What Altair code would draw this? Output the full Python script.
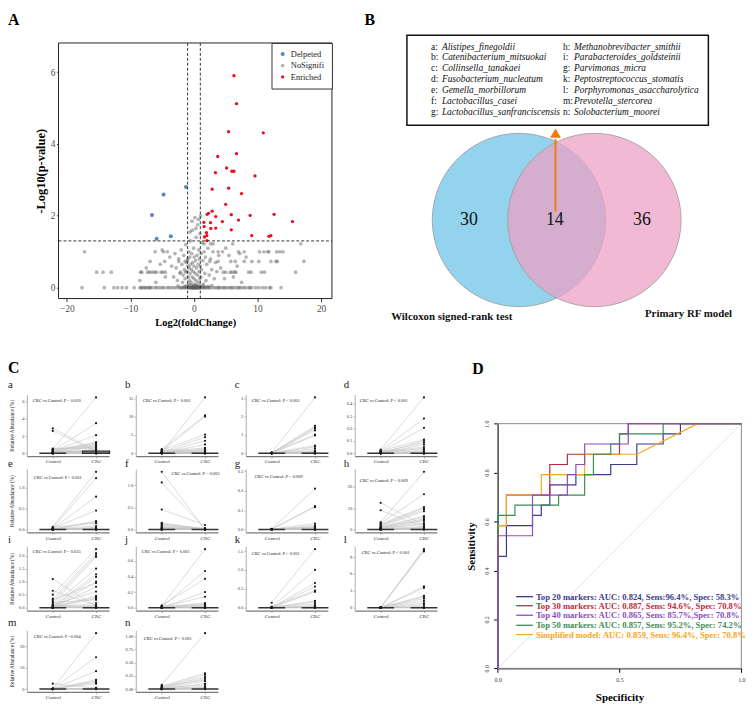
import altair as alt
import pandas as pd

W, H = 740, 692
SERIF = "Liberation Serif"


def S(domain, rng):
    return alt.Scale(domain=domain, range=rng, nice=False, zero=False)


layers = []

# =====================================================================
# Panel A : volcano plot
# =====================================================================
A_XR = [51, 327]
A_YR = [288, 30]
A_XD = [-21.3, 21.7]
A_YD = [-0.303, 6.81]
FC_CUT = [-1, 1]
P_CUT = 1.301

NS_LEVELS = [0.0, 0.43, 0.73, 1.0, 1.22]
NS_ROW0 = [-17.6, -14.1, -12.6, -12.0, -11.3, -10.6, -9.4, -8.5, -8.1, -7.8, -7.3, -7.0, -6.6,
           -6.1, -5.8, -5.4, -5.0, -4.7, -4.2, -3.9, -3.5, -3.1, -2.7, -2.3, -1.9, -1.6, -1.2,
           -0.9, -0.6, -0.3, 0.0, 0.2, 0.5, 0.8, 1.1, 1.4, 1.8, 2.1, 2.5, 2.9, 3.3, 3.6, 4.0,
           4.4, 4.9, 5.3, 5.6, 6.1, 6.5, 6.9, 7.4, 7.8, 8.1, 8.6, 9.1, 9.7, 10.2, 10.8, 11.3,
           11.9, 12.1, 13.7, -0.5, -0.1, 0.1, 0.3, 0.6, -0.8, 1.0, -1.4, 1.6, -2.0, 2.3, -6.9,
           -7.6, -8.3, 3.9, 4.7, 5.9, 7.1, 8.8, -0.2, 0.0, 0.4, -0.4, 0.7]
NS_ROW1 = [-15.3, -14.3, -13.0, -8.4, -8.2, -7.3, -7.0, -6.6, -6.2, -5.9, -5.2, -4.9, -4.5,
           -2.1, -1.3, 4.6, 5.0, 5.7, 6.0, 6.4, 6.6, 8.6, 9.0, 10.6, 11.1, 16.0]
NS_ROW2 = [-6.9, -4.6, -2.4, -1.4, 2.5, 3.8, 5.8, 6.5, 7.9, 9.1, 10.2, 12.1, 12.9, 13.1, 17.3]
NS_ROW3 = [-17.2, -6.1, -4.8, -4.2, 3.8, 4.5, 7.0, 7.9, 10.3, 11.0, 11.6, 11.8, 13.0, 13.5, 14.0]
NS_ROW4 = [1.6, 2.6, 3.0, 6.1, 16.8]
NS_CLOUD_X = [-3.8, -3.5, -3.2, -3.0, -2.8, -2.6, -2.4, -2.2, -2.0, -1.9, -1.8, -1.7, -1.6, -1.5,
              -1.4, -1.3, -1.2, -1.1, -1.0, -1.0, -0.95, -0.9, -0.85, -0.8, -0.75, -0.7, -0.65,
              -0.6, -0.55, -0.5, -0.45, -0.4, -0.35, -0.3, -0.25, -0.2, -0.15, -0.1, -0.05, 0.0,
              0.0, 0.05, 0.1, 0.15, 0.2, 0.25, 0.3, 0.35, 0.4, 0.45, 0.5, 0.55, 0.6, 0.65, 0.7,
              0.75, 0.8, 0.85, 0.9, 0.95, 1.0, 1.05, 1.1, 1.15, 1.2, 1.3, 1.4, 1.5, 1.6, 1.7, 1.8,
              1.9, 2.0, 2.2, 2.4, 2.6, 2.8, 3.0, 3.2, 3.4, 3.6, 3.9, -0.3, 0.7, -0.6, 0.3,
              -1.5, -1.2, -0.9, -0.7, -0.4, -0.2, 0.1, 0.3, 0.5, 0.8, 1.0, 1.3, 1.7, 2.2, -2.5, 2.8,
              4.2, 4.8, 5.5, 6.2, 6.8, 7.5, 8.2, -4.5, -5.3, -6.0, -7.5, -8.5, 5.0, 7.2, -5.0]
NS_CLOUD_Y = [0.85, 0.6, 0.3, 0.95, 0.55, 0.2, 0.8, 0.4, 1.05, 0.65, 0.15, 0.35, 0.9, 0.5,
              0.25, 1.2, 0.7, 0.45, 0.8, 0.75, 0.6, 0.3, 0.1, 1.0, 0.55, 0.2, 0.85,
              0.4, 1.3, 0.65, 0.15, 0.5, 0.95, 0.3, 1.6, 0.7, 0.05, 0.45, 1.1, 0.25,
              0.6, 0.85, 0.1, 1.95, 0.4, 0.75, 0.2, 1.4, 0.55, 0.05, 0.9, 0.35, 1.75, 0.65, 0.15,
              1.05, 0.45, 0.8, 0.25, 1.5, 0.6, 2.0, 0.3, 0.95, 0.5, 1.25, 0.75, 0.1, 1.0, 0.4, 0.85,
              0.2, 0.65, 1.1, 0.35, 0.8, 0.5, 1.0, 0.25, 0.7, 0.45, 0.9, 1.85, 1.9, 1.55, 1.65,
              0.03, 0.06, 0.02, 0.05, 0.08, 0.02, 0.04, 0.07, 0.02, 0.06, 0.03, 0.05, 0.02, 0.04, 0.05, 0.06,
              0.55, 0.25, 0.9, 0.3, 0.6, 0.15, 0.85, 0.3, 0.65, 0.15, 0.55, 0.2, 1.1, 0.95, 1.05]
ENR_X = [6.29, 6.7, 5.45, 10.9, 3.74, 6.7, 5.14, 5.97, 6.29, 3.38, 9.6, 2.86, 5.45, 7.48, 4.99,
         2.86, 2.08, 2.29, 5.87, 8.83, 12.6, 3.43, 1.56, 2.6, 4.47, 7.01, 15.5, 1.61, 2.65, 3.43,
         5.87, 1.97, 2.03, 1.66, 9.09, 11.8, 12.1, 2.03]
ENR_Y = [5.90, 5.12, 4.34, 4.31, 3.65, 3.73, 3.33, 3.24, 3.24, 3.20, 3.11, 2.74, 2.77, 2.62, 2.32,
         2.13, 2.04, 2.07, 2.03, 2.01, 2.04, 1.98, 1.82, 1.81, 1.84, 1.88, 1.84, 1.70, 1.65, 1.66,
         1.61, 1.53, 1.45, 1.41, 1.45, 1.43, 1.45, 1.31]
DEP_X = [-1.25, -4.78, -6.6, -3.64, -5.87]
DEP_Y = [2.80, 2.59, 2.02, 1.43, 1.36]
A_GROUPS = ["Delpeted", "NoSignifi", "Enriched"]
A_COLORS = ["#5b86cc", "rgba(90,90,90,0.45)", "#e8101a"]

ns_x, ns_y = [], []
for lvl, row in zip(NS_LEVELS, [NS_ROW0, NS_ROW1, NS_ROW2, NS_ROW3, NS_ROW4]):
    ns_x += row
    ns_y += [lvl] * len(row)
ns_x += NS_CLOUD_X
ns_y += NS_CLOUD_Y
dfA = pd.DataFrame({
    "fc": ns_x + DEP_X + ENR_X,
    "p": ns_y + DEP_Y + ENR_Y,
    "grp": ["NoSignifi"] * len(ns_x) + ["Delpeted"] * len(DEP_X) + ["Enriched"] * len(ENR_X),
})

ax_A_x = alt.Axis(values=[-20, -10, 0, 10, 20], title="Log2(foldChange)", orient="bottom",
                  offset=A_YR[0] - H, domain=False, tickSize=3, tickColor="#333", labelPadding=2,
                  labelFont=SERIF, labelFontSize=9.5, labelColor="#4d4d4d", titleFont=SERIF,
                  titleFontSize=10.5, titleFontWeight="bold", titlePadding=5, titleColor="black",
                  labelFlush=False)
ax_A_y = alt.Axis(values=[0, 2, 4, 6], title="-Log10(p-value)", orient="left", offset=-A_XR[0],
                  domain=False, tickSize=2, tickColor="#333", labelPadding=1.5, labelFont=SERIF,
                  labelFontSize=9.5, labelColor="#4d4d4d", titleFont=SERIF, titleFontSize=12.5,
                  titleFontWeight="bold", titlePadding=3, titleColor="black")

layers.append(alt.Chart(dfA).mark_circle(opacity=1).encode(
    x=alt.X("fc:Q", scale=S(A_XD, A_XR), axis=ax_A_x),
    y=alt.Y("p:Q", scale=S(A_YD, A_YR), axis=ax_A_y),
    color=alt.Color("grp:N", scale=alt.Scale(domain=A_GROUPS, range=A_COLORS),
                    legend=alt.Legend(title=None, orient="none", legendX=266, legendY=30,
                                      fillColor="white", strokeColor="#333", padding=7,
                                      labelFont=SERIF, labelFontSize=8.5, labelColor="#222",
                                      symbolType="circle", symbolSize=42, rowPadding=2.5)),
    size=alt.Size("grp:N", scale=alt.Scale(domain=A_GROUPS, range=[17, 11, 17]), legend=None),
))

dfAv = pd.DataFrame({"x": FC_CUT, "y": [A_YD[0]] * 2, "y2": [A_YD[1]] * 2})
layers.append(alt.Chart(dfAv).mark_rule(strokeDash=[3, 2], color="#222", strokeWidth=0.9).encode(
    x=alt.X("x:Q", scale=S(A_XD, A_XR), axis=None),
    y=alt.Y("y:Q", scale=S(A_YD, A_YR), axis=None), y2="y2:Q"))
dfAh = pd.DataFrame({"y": [P_CUT], "x": [A_XD[0]], "x2": [A_XD[1]]})
layers.append(alt.Chart(dfAh).mark_rule(strokeDash=[3, 2], color="#222", strokeWidth=0.9).encode(
    x=alt.X("x:Q", scale=S(A_XD, A_XR), axis=None), x2="x2:Q",
    y=alt.Y("y:Q", scale=S(A_YD, A_YR), axis=None)))
dfAbox = pd.DataFrame({"x": [A_XD[0]], "x2": [A_XD[1]], "y": [A_YD[0]], "y2": [A_YD[1]]})
layers.append(alt.Chart(dfAbox).mark_rect(fillOpacity=0, stroke="#222", strokeWidth=1).encode(
    x=alt.X("x:Q", scale=S(A_XD, A_XR), axis=None), x2="x2:Q",
    y=alt.Y("y:Q", scale=S(A_YD, A_YR), axis=None), y2="y2:Q"))

# =====================================================================
# Panel B : Venn diagram
# =====================================================================
B_XR = [387, 737]
B_YR = [20, 312]
B_XD = [0, 350]
B_YD = [0, 292]
VENN_CX = [128.8, 205.0]
VENN_CY = [188.7, 188.7]
VENN_DIAM = 175
VENN_COLORS = ["#93d3ee", "#eca0c4"]
VENN_OPAC = [1.0, 0.74]
VENN_COUNTS = ["30", "14", "36"]
VENN_COUNT_X = [78.3, 165.0, 253.0]
VENN_COUNT_Y = [189.0, 189.0, 189.0]
VENN_SETS = ["Wilcoxon signed-rank test", "Primary RF model"]
VENN_SET_X = [61, 300]
VENN_SET_Y = [287, 284]
BOX_X = [15.7, 320.0]
BOX_Y = [2.3, 93.0]
KEYS_1 = ["a:", "b:", "c:", "d:", "e:", "f:", "g:"]
NAMES_1 = ["Alistipes_finegoldii", "Catenibacterium_mitsuokai", "Collinsella_tanakaei",
           "Fusobacterium_nucleatum", "Gemella_morbillorum", "Lactobacillus_casei",
           "Lactobacillus_sanfranciscensis"]
KEYS_2 = ["h:", "i:", "g:", "k:", "l:", "m:", "n:"]
NAMES_2 = ["Methanobrevibacter_smithii", "Parabacteroides_goldsteinii", "Parvimonas_micra",
           "Peptostreptococcus_stomatis", "Porphyromonas_asaccharolytica", "Prevotella_stercorea",
           "Solobacterium_moorei"]
LINE_Y = [13.7, 24.3, 35.3, 46.0, 57.7, 68.7, 79.3]
COL_X = [40.0, 173.3]
NAME_GAP = 11.0
ARROW_X = 165.7
ARROW_Y = [180.0, 107.0]
ARROW_HEAD_Y = 101.0
ARROW_COLOR = "#f07a12"

bx = lambda f: alt.X(f, scale=S(B_XD, B_XR), axis=None)
by = lambda f: alt.Y(f, scale=S(B_YD, B_YR), axis=None)

for i in range(2):
    dfc = pd.DataFrame({"x": [VENN_CX[i]], "y": [VENN_CY[i]]})
    layers.append(alt.Chart(dfc).mark_point(
        filled=True, shape="circle", size=VENN_DIAM ** 2, fill=VENN_COLORS[i],
        fillOpacity=VENN_OPAC[i], opacity=1, stroke="#9a9a9a", strokeWidth=0.8, strokeOpacity=1
    ).encode(x=bx("x:Q"), y=by("y:Q")))

dfArrow = pd.DataFrame({"x": [ARROW_X], "y": [ARROW_Y[0]], "y2": [ARROW_Y[1]]})
layers.append(alt.Chart(dfArrow).mark_rule(color=ARROW_COLOR, strokeWidth=2).encode(
    x=bx("x:Q"), y=by("y:Q"), y2="y2:Q"))
dfHead = pd.DataFrame({"x": [ARROW_X], "y": [ARROW_HEAD_Y]})
layers.append(alt.Chart(dfHead).mark_point(filled=True, shape="triangle-up", size=120,
                                           color=ARROW_COLOR, opacity=1).encode(
    x=bx("x:Q"), y=by("y:Q")))

dfCounts = pd.DataFrame({"x": VENN_COUNT_X, "y": VENN_COUNT_Y, "t": VENN_COUNTS})
layers.append(alt.Chart(dfCounts).mark_text(font=SERIF, fontSize=18, color="#111",
                                            baseline="middle").encode(
    x=bx("x:Q"), y=by("y:Q"), text="t:N"))
dfSets = pd.DataFrame({"x": VENN_SET_X, "y": VENN_SET_Y, "t": VENN_SETS})
layers.append(alt.Chart(dfSets).mark_text(font=SERIF, fontSize=11, fontWeight="bold",
                                          color="#111", baseline="middle").encode(
    x=bx("x:Q"), y=by("y:Q"), text="t:N"))

dfBox = pd.DataFrame({"x": [BOX_X[0]], "x2": [BOX_X[1]], "y": [BOX_Y[0]], "y2": [BOX_Y[1]]})
layers.append(alt.Chart(dfBox).mark_rect(fill="white", stroke="#111", strokeWidth=1.5).encode(
    x=bx("x:Q"), x2="x2:Q", y=by("y:Q"), y2="y2:Q"))

keys_df = pd.DataFrame({
    "x": [COL_X[0]] * 7 + [COL_X[1]] * 7,
    "y": LINE_Y + LINE_Y,
    "k": KEYS_1 + KEYS_2,
    "n": NAMES_1 + NAMES_2,
})
keys_df["xn"] = keys_df["x"] + NAME_GAP
layers.append(alt.Chart(keys_df).mark_text(font=SERIF, fontSize=9.5, align="left",
                                           baseline="middle", color="#111").encode(
    x=bx("x:Q"), y=by("y:Q"), text="k:N"))
layers.append(alt.Chart(keys_df).mark_text(font=SERIF, fontSize=9.5, align="left",
                                           baseline="middle", fontStyle="italic",
                                           color="#111").encode(
    x=bx("xn:Q"), y=by("y:Q"), text="n:N"))

# =====================================================================
# Panel C : paired abundance plots
# =====================================================================
C_COL_L = [19, 129, 240, 350]
C_W = 83
C_ROW_T = [385, 460, 538, 623]
C_ROW_H = [62, 64, 65, 62]
C_XD = [-0.6, 1.3]
C_LET = ["a", "b", "c", "d", "e", "f", "g", "h", "i", "j", "k", "l", "m", "n"]

C_CTRL = [
    [0.45, 0.30, 0.25, 0.20, 2.90, 2.60, 0.40, 0.15, 0.35, 0.05, 0.00, 0.55, 0.50, 0.00, 0.10, 0.00, 0.20, 0.00, 0.30, 0.00, 0.10, 0.00, 0.05, 0.00],
    [0.2, 1.1, 0.5, 0.8, 0.3, 0.1, 0.0, 0.4, 0.0, 0.2, 0.9, 0.0, 0.1, 0.0, 0.6, 0.0, 0.3, 0.0, 0.0, 0.1, 0.0, 0.0],
    [0.03, 0.02, 0.01, 0.02, 0.00, 0.01, 0.00, 0.03, 0.00, 0.01, 0.00, 0.02, 0.00, 0.00, 0.01, 0.00, 0.00, 0.00, 0.00, 0.00],
    [0.03, 0.02, 0.01, 0.02, 0.00, 0.01, 0.00, 0.01, 0.00, 0.02, 0.00, 0.00, 0.01, 0.00, 0.00, 0.00, 0.00, 0.00],
    [0.06, 0.04, 0.02, 0.03, 0.01, 0.00, 0.05, 0.02, 0.00, 0.01, 0.00, 0.00, 0.02, 0.00, 0.00, 0.00, 0.00],
    [1.30, 1.06, 0.45, 0.15, 0.13, 0.11, 0.09, 0.07, 0.05, 0.04, 0.03, 0.02, 0.01, 0.00, 0.00, 0.00, 0.00, 0.00],
    [0.003, 0.002, 0.001, 0.002, 0.000, 0.001, 0.000, 0.002, 0.000, 0.001, 0.000, 0.000, 0.000, 0.000],
    [12.5, 9.0, 3.5, 3.0, 2.6, 2.2, 1.8, 1.5, 1.2, 1.0, 0.8, 0.6, 0.5, 0.4, 0.3, 0.2, 0.1, 0.0, 0.0, 0.0, 0.1, 0.0, 0.0, 0.0],
    [1.10, 0.65, 0.50, 0.35, 0.25, 0.15, 0.10, 0.05, 0.02, 0.00, 0.30, 0.00, 0.10, 0.00, 0.05, 0.00, 0.20, 0.00, 0.00, 0.00, 0.10, 0.00, 0.00, 0.05],
    [0.02, 0.01, 0.03, 0.00, 0.01, 0.00, 0.02, 0.00, 0.01, 0.00, 0.00, 0.00, 0.00, 0.00, 0.00, 0.00],
    [0.13, 0.02, 0.01, 0.00, 0.02, 0.00, 0.01, 0.00, 0.00, 0.00, 0.00, 0.00, 0.00, 0.00, 0.00, 0.00],
    [0.05, 0.03, 0.02, 0.01, 0.00, 0.02, 0.00, 0.01, 0.00, 0.00, 0.00, 0.00, 0.00, 0.00, 0.00, 0.00],
    [2.5, 0.3, 0.2, 0.1, 0.0, 0.2, 0.0, 0.1, 0.0, 0.0, 0.0, 0.0, 0.0, 0.0],
    [0.08, 0.06, 0.04, 0.03, 0.02, 0.05, 0.01, 0.00, 0.02, 0.00, 0.01, 0.00, 0.00, 0.00, 0.00, 0.00],
]
C_CRC = [
    [6.50, 3.50, 2.10, 1.30, 0.30, 0.20, 1.20, 1.10, 1.00, 0.90, 0.80, 0.70, 0.60, 0.50, 0.40, 0.30, 0.20, 0.10, 0.05, 0.00, 0.00, 0.15, 0.00, 0.00],
    [15.2, 10.3, 10.0, 5.1, 4.4, 3.4, 2.4, 1.5, 1.2, 1.0, 0.8, 0.6, 0.4, 0.3, 0.2, 0.1, 0.05, 0.0, 0.0, 0.1, 0.0, 0.0],
    [3.05, 1.50, 1.42, 1.35, 1.25, 1.02, 0.97, 0.42, 0.35, 0.25, 0.15, 0.10, 0.05, 0.03, 0.02, 0.01, 0.00, 0.00, 0.00, 0.00],
    [0.45, 0.28, 0.205, 0.11, 0.10, 0.085, 0.07, 0.05, 0.04, 0.03, 0.02, 0.01, 0.01, 0.00, 0.00, 0.00, 0.00, 0.00],
    [1.37, 1.22, 0.78, 0.45, 0.20, 0.18, 0.15, 0.08, 0.05, 0.03, 0.02, 0.01, 0.00, 0.00, 0.00, 0.00, 0.00],
    [0.00, 0.02, 0.10, 0.01, 0.00, 0.03, 0.00, 0.01, 0.02, 0.00, 0.00, 0.01, 0.00, 0.00, 0.00, 0.00, 0.00, 0.00],
    [0.21, 0.12, 0.115, 0.03, 0.02, 0.015, 0.01, 0.01, 0.005, 0.00, 0.00, 0.00, 0.00, 0.00],
    [2.0, 1.0, 27.0, 16.5, 10.5, 10.0, 9.3, 8.5, 6.2, 5.8, 5.0, 4.5, 4.0, 3.0, 2.5, 1.5, 1.0, 0.5, 0.3, 0.2, 0.0, 0.0, 0.6, 0.0],
    [0.05, 0.10, 2.25, 2.10, 2.02, 1.95, 1.50, 1.28, 1.18, 1.00, 0.95, 0.80, 0.62, 0.45, 0.40, 0.35, 0.30, 0.18, 0.10, 0.05, 0.03, 0.00, 0.00, 0.00],
    [0.75, 0.47, 0.37, 0.20, 0.14, 0.06, 0.05, 0.04, 0.03, 0.02, 0.01, 0.01, 0.00, 0.00, 0.00, 0.00],
    [1.55, 1.00, 0.65, 0.56, 0.45, 0.42, 0.18, 0.15, 0.10, 0.05, 0.03, 0.02, 0.01, 0.00, 0.00, 0.00],
    [10.4, 10.2, 10.0, 3.8, 3.5, 2.1, 1.9, 1.6, 1.2, 0.8, 0.5, 0.2, 0.1, 0.0, 0.0, 0.0],
    [0.5, 26.0, 14.8, 8.3, 4.3, 3.8, 3.2, 2.5, 0.5, 0.3, 0.1, 0.0, 0.0, 0.0],
    [1.06, 0.30, 0.27, 0.23, 0.20, 0.17, 0.15, 0.10, 0.08, 0.05, 0.03, 0.02, 0.01, 0.00, 0.00, 0.00],
]
C_YTOP = [6.5, 15.2, 3.05, 0.45, 1.37, 1.3, 0.297, 27.0, 2.25, 0.75, 1.55, 10.4, 26.0, 1.06]
C_TICKS = [[0, 2, 4, 6], [0, 5, 10, 15], [0, 1, 2, 3], [0, 0.1, 0.2, 0.3, 0.4], [0, 0.5, 1.0],
           [0, 0.5, 1.0], [0, 0.1, 0.2, 0.3], [0, 10, 20], [0, 0.5, 1.0, 1.5, 2.0],
           [0, 0.2, 0.4, 0.6], [0, 0.5, 1.0, 1.5], [0, 3, 6, 9], [0, 10, 20],
           [0, 0.25, 0.5, 0.75, 1.0]]
C_FMT = ["d", "d", "d", ".1f", ".1f", ".1f", ".1f", "d", ".1f", ".1f", ".1f", "d", "d", ".2f"]
C_BOX_HI = [[0.0, 0.25]] + [[0.0, 0.0]] * 13
C_PTEXT = ["CRC vs Control:  P = 0.020", "CRC vs Control:  P < 0.001", "CRC vs Control:  P < 0.001",
           "CRC vs Control:  P < 0.001", "CRC vs Control:  P < 0.001", "CRC vs Control:  P = 0.003",
           "CRC vs Control:  P = 0.009", "CRC vs Control:  P = 0.009", "CRC vs Control:  P = 0.035",
           "CRC vs Control:  P < 0.001", "CRC vs Control:  P < 0.001", "CRC vs Control:  P < 0.001",
           "CRC vs Control:  P =0.004", "CRC vs Control:  P < 0.001"]
C_PT_DX = [6, 7, 6, 5, 7, 36, 9, 5, 6, 6, 6, 7, 7, 8]
C_PT_DY = [6, 6, 6, 6, 9, 5, 8, 12, 6, 6, 8, 7, 7, 9]
C_LET_X = [0, 118, 229, 339]
C_LET_Y = [375.5, 455, 532, 616]

pt_rows = []
let_rows = []
for i in range(14):
    r, c = divmod(i, 4)
    L = C_COL_L[c]
    T = C_ROW_T[r]
    Bt = T + C_ROW_H[r]
    M = C_YTOP[i]
    xs = S(C_XD, [L, L + C_W])
    ys = S([-0.05 * M, 1.05 * M], [Bt, T])
    rows = []
    for k, (a, b) in enumerate(zip(C_CTRL[i], C_CRC[i])):
        rows.append({"pair": k, "g": 0, "v": a})
        rows.append({"pair": k, "g": 1, "v": b})
    df = pd.DataFrame(rows)
    layers.append(alt.Chart(df).mark_line(color="#c4c4c4", strokeWidth=0.6).encode(
        x=alt.X("g:Q", scale=xs, axis=None), y=alt.Y("v:Q", scale=ys, axis=None),
        detail="pair:N"))
    dfb = pd.DataFrame({"g0": [-0.31, 0.69], "g1": [0.31, 1.31], "lo": [0.0, 0.0],
                        "hi": C_BOX_HI[i]})
    layers.append(alt.Chart(dfb).mark_rect(fill="#a898a8", stroke="#333", strokeWidth=1.5).encode(
        x=alt.X("g0:Q", scale=xs, axis=None), x2="g1:Q",
        y=alt.Y("lo:Q", scale=ys, axis=None), y2="hi:Q"))
    yax = dict(values=C_TICKS[i], format=C_FMT[i], orient="left", offset=-L,
               title="Relative Abundance (%)" if c == 0 else "", tickSize=2, labelPadding=1,
               labelFont=SERIF, labelFontSize=4.5, labelColor="#333", domainColor="#9a9a9a",
               domainWidth=0.8, tickColor="#9a9a9a", tickWidth=0.6, titleFont=SERIF,
               titleFontSize=5.3, titleFontWeight="normal", titleColor="#222")
    if c == 0:
        yax["titleX"] = -12.7
    layers.append(alt.Chart(df).mark_circle(color="#1a1a1a", size=5, opacity=1).encode(
        x=alt.X("g:Q", scale=xs, axis=alt.Axis(
            values=[0, 1], labelExpr="datum.value == 0 ? 'Control' : 'CRC'", orient="bottom",
            offset=Bt - H, title="", tickSize=2, labelPadding=1, labelFont=SERIF,
            labelFontSize=5, labelColor="#333", domainColor="#7a7a7a", domainWidth=1.3,
            tickColor="#7a7a7a", tickWidth=0.6, labelFlush=False)),
        y=alt.Y("v:Q", scale=ys, axis=alt.Axis(**yax))))
    pt_rows.append({"x": L + C_PT_DX[i], "y": T + C_PT_DY[i], "t": C_PTEXT[i]})
    let_rows.append({"x": C_LET_X[c], "y": C_LET_Y[r], "t": C_LET[i]})

PXS = S([0, W], [0, W])
PYS = S([0, H], [0, H])
layers.append(alt.Chart(pd.DataFrame(pt_rows)).mark_text(
    font=SERIF, fontSize=4.5, align="left", baseline="middle", color="#222").encode(
    x=alt.X("x:Q", scale=PXS, axis=None), y=alt.Y("y:Q", scale=PYS, axis=None), text="t:N"))
layers.append(alt.Chart(pd.DataFrame(let_rows)).mark_text(
    font=SERIF, fontSize=11, align="left", baseline="middle", color="#222").encode(
    x=alt.X("x:Q", scale=PXS, axis=None), y=alt.Y("y:Q", scale=PYS, axis=None), text="t:N"))

# =====================================================================
# Panel D : ROC curves
# =====================================================================
D_XR = [494.3, 740.3]
D_YR = [661.3, 414.3]
D_XD = [0, 1]
D_YD = [0, 1]

ROC_NAMES = ["Top 20 markers", "Top 30 markers", "Simplified model", "Top 50 markers", "Top 40 markers"]
ROC_COLORS = ["#3b3b8f", "#c0283a", "#f5a623", "#3d8c55", "#8a4cc0"]
ROC_X = [
    [0, 0, 0.036, 0.036, 0.143, 0.143, 0.179, 0.179, 0.214, 0.214, 0.321, 0.321, 0.464, 0.464, 0.571, 0.571, 0.679, 0.679, 0.750, 0.750, 1.0],
    [0, 0, 0.036, 0.036, 0.214, 0.214, 0.286, 0.286, 0.500, 0.500, 0.536, 0.536, 1.0],
    [0, 0, 0.036, 0.036, 0.179, 0.179, 0.357, 0.357, 0.571, 0.821, 1.0],
    [0, 0, 0.071, 0.071, 0.250, 0.250, 0.357, 0.357, 0.393, 0.393, 0.464, 0.464, 0.500, 0.500, 0.679, 0.679, 1.0],
    [0, 0, 0.143, 0.143, 0.286, 0.286, 0.321, 0.321, 0.357, 0.357, 0.536, 0.536, 1.0],
]
ROC_Y = [
    [0, 0.458, 0.458, 0.583, 0.583, 0.625, 0.625, 0.667, 0.667, 0.750, 0.750, 0.792, 0.792, 0.833, 0.833, 0.917, 0.917, 0.958, 0.958, 1.0, 1.0],
    [0, 0.583, 0.583, 0.708, 0.708, 0.833, 0.833, 0.875, 0.875, 0.958, 0.958, 1.0, 1.0],
    [0, 0.583, 0.583, 0.708, 0.708, 0.792, 0.792, 0.875, 0.875, 1.0, 1.0],
    [0, 0.625, 0.625, 0.667, 0.667, 0.708, 0.708, 0.792, 0.792, 0.875, 0.875, 0.917, 0.917, 0.958, 0.958, 1.0, 1.0],
    [0, 0.542, 0.542, 0.708, 0.708, 0.792, 0.792, 0.833, 0.833, 0.917, 0.917, 1.0, 1.0],
]
LEG_TEXT = ["Top 20 markers:  AUC: 0.824, Sens:96.4%, Spec: 58.3%",
            "Top 30 markers:  AUC: 0.887, Sens: 94.6%, Spec: 70.8%",
            "Top 40 markers:  AUC: 0.865, Sens: 85.7%,Spec: 70.8%",
            "Top 50 markers:  AUC: 0.857, Sens: 95.2%, Spec: 74.2%",
            "Simplified model: AUC: 0.859, Sens: 96.4%, Spec: 70.8%"]
LEG_COLORS = ["#3b3b8f", "#c0283a", "#8a4cc0", "#3d8c55", "#f5a623"]
LEG_Y = [0.293, 0.256, 0.217, 0.176, 0.138]
LEG_X0, LEG_X1, LEG_TX = 0.076, 0.145, 0.157

dx_ = lambda f, axis=None: alt.X(f, scale=S(D_XD, D_XR), axis=axis)
dy_ = lambda f, axis=None: alt.Y(f, scale=S(D_YD, D_YR), axis=axis)

dfDiag = pd.DataFrame({"x": [0, 1], "y": [0, 1]})
layers.append(alt.Chart(dfDiag).mark_line(color="#dcdcdc", strokeWidth=0.8).encode(
    x=dx_("x:Q", alt.Axis(values=[0, 0.5, 1.0], format=".1f", orient="bottom",
                          offset=D_YR[0] - H, title="Specificity", titleFont=SERIF,
                          titleFontSize=11, titleFontWeight="bold", titlePadding=9,
                          titleColor="black", labelFont=SERIF, labelFontSize=6,
                          labelColor="#444", tickSize=4, labelPadding=4,
                          domainColor="black", tickColor="black", labelFlush=False)),
    y=dy_("y:Q", alt.Axis(values=[0, 0.2, 0.4, 0.6, 0.8, 1.0], format=".1f", orient="left",
                          offset=-D_XR[0], title="Sensitivity", titleFont=SERIF,
                          titleFontSize=11, titleFontWeight="bold", titlePadding=7,
                          titleColor="black", labelFont=SERIF, labelFontSize=6,
                          labelColor="#444", tickSize=4, labelPadding=4, labelAngle=-90,
                          domainColor="black", tickColor="black", labelFlush=False))))
dfDbox = pd.DataFrame({"x": [0], "x2": [1], "y": [0], "y2": [1]})
layers.append(alt.Chart(dfDbox).mark_rect(fillOpacity=0, stroke="#8a8a8a", strokeWidth=1).encode(
    x=dx_("x:Q"), x2="x2:Q", y=dy_("y:Q"), y2="y2:Q"))
for name, col, xs_, ys_ in zip(ROC_NAMES, ROC_COLORS, ROC_X, ROC_Y):
    dfr = pd.DataFrame({"x": xs_, "y": ys_, "i": list(range(len(xs_)))})
    layers.append(alt.Chart(dfr).mark_line(color=col, strokeWidth=1.2).encode(
        x=dx_("x:Q"), y=dy_("y:Q"), order="i:Q"))
dfLeg = pd.DataFrame({"x0": [LEG_X0] * 5, "x1": [LEG_X1] * 5, "tx": [LEG_TX] * 5, "y": LEG_Y,
                      "t": LEG_TEXT, "c": LEG_COLORS})
layers.append(alt.Chart(dfLeg).mark_rule(strokeWidth=1.3).encode(
    x=dx_("x0:Q"), x2="x1:Q", y=dy_("y:Q"), color=alt.Color("c:N", scale=None)))
layers.append(alt.Chart(dfLeg).mark_text(font=SERIF, fontSize=8.7, fontWeight="bold",
                                         align="left", baseline="middle").encode(
    x=dx_("tx:Q"), y=dy_("y:Q"), text="t:N", color=alt.Color("c:N", scale=None)))

# =====================================================================
# Panel letters
# =====================================================================
PANEL_LET = ["A", "B", "C", "D"]
PANEL_LET_X = [0, 360, 0, 468.7]
PANEL_LET_Y = [11.5, 11.5, 363.5, 364.5]
layers.append(alt.Chart(pd.DataFrame({"x": PANEL_LET_X, "y": PANEL_LET_Y, "t": PANEL_LET}))
              .mark_text(font=SERIF, fontSize=16, fontWeight="bold", align="left",
                         baseline="alphabetic", color="black").encode(
    x=alt.X("x:Q", scale=PXS, axis=None), y=alt.Y("y:Q", scale=PYS, axis=None), text="t:N"))

chart = alt.layer(*layers).resolve_scale(
    x="independent", y="independent", color="independent", size="independent"
).properties(width=W, height=H, padding=0, background="white").configure(
    font=SERIF
).configure_view(stroke=None).configure_axis(grid=False, labelOverlap=False)

chart.save("out.html", embed_options={"renderer": "svg", "actions": False})
